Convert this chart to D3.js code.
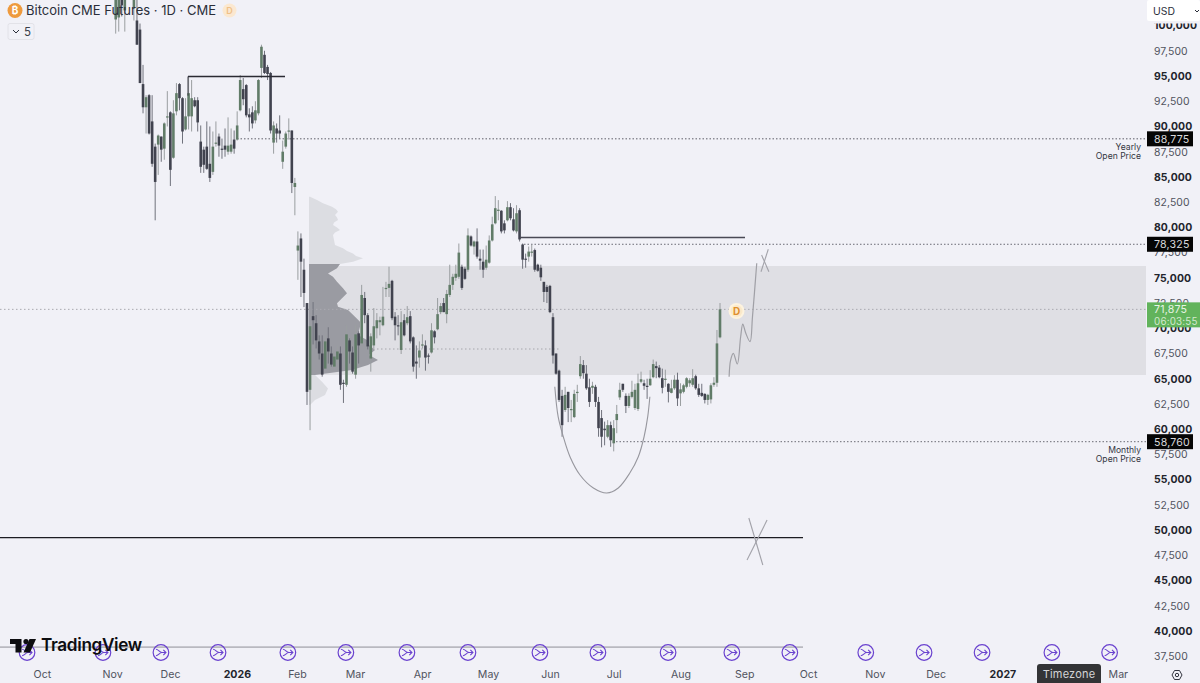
<!DOCTYPE html>
<html><head><meta charset="utf-8">
<script src="https://cdn.jsdelivr.net/npm/d3@7"></script>
<style>
html,body{margin:0;padding:0;background:#f1f1f7;overflow:hidden}
svg{display:block;font-family:Inter,"Open Sans",sans-serif}
</style></head><body><svg id="c" width="1200" height="683"></svg>
<script>
const opens=[100600,100800,103000,101500,103500,104000,101700,100500,99600,94200,
91900,93100,90500,88000,88200,89000,87800,90900,91400,86900,
91500,94200,92800,89700,91000,91000,92600,92600,88500,87700,
88000,86300,85500,88300,89000,87800,88100,87500,87500,88700,
88700,91600,93700,94100,91200,91400,90600,91300,95800,97100,
95900,95300,88400,89800,89600,86500,88000,89500,89600,84000,
77700,78900,75800,72500,63900,71200,70500,68700,67500,66000,
69000,67500,66200,66900,67500,64600,64400,68800,67600,65400,
69500,68500,73000,71300,67000,68300,70000,70600,70300,73900,
74000,74700,71150,70300,67850,70800,70500,71200,69100,66700,
67100,68300,68300,67300,67600,69700,69900,71600,72500,71400,
73300,74300,75000,75100,76100,75900,75800,79100,78100,78600,
76900,76600,76000,76500,78700,80400,81700,81650,80400,80700,
82000,80800,79600,81700,78300,76900,77100,77500,77750,76300,
76000,74600,74100,74200,71100,67500,65800,63300,61900,63700,
61900,61200,63600,65250,66350,65500,64150,64100,64200,62700,
61100,60050,59250,60400,58600,60900,63150,64500,63300,62300,
63200,62100,62000,64700,64550,64300,64350,65150,66250,66100,
65050,64900,64500,63600,64050,64900,63550,63700,64200,64550,
64400,65250,64050,63600,63500,62900,62950,64400,64600,69100];
const closes=[102800,102800,102000,102600,104200,103600,103200,98100,94300,91900,
92900,89300,86300,84500,89100,87700,90300,91000,85700,91300,
93300,92800,89500,91000,93300,92800,92000,90400,86000,86200,
85800,84900,88000,88400,88100,87700,87700,88100,88200,87800,
90100,94600,92700,91100,90900,90300,91600,94600,97900,95300,
95200,89600,90100,89300,89300,87500,89300,89600,84400,84400,
78200,76600,73500,63700,70200,70800,68800,67500,65400,68700,
67700,66400,67200,67700,64400,64500,69400,67700,65700,69400,
68300,73300,71300,68200,69200,70200,70800,70800,71150,74000,
74400,71000,70300,70200,70600,69300,71100,68700,66200,66500,
67800,68400,67100,67200,69800,69100,71400,72200,71600,73400,
74300,75100,75400,77500,74000,74900,79200,78200,78600,77100,
76700,75800,76800,78700,80300,81900,81750,79600,79700,82000,
80900,79700,81400,78800,76800,76800,77600,77600,75800,75700,
75050,73600,73600,71600,67300,65500,62900,60400,63400,62100,
62000,63500,63700,66450,65550,64050,62700,64300,62700,60100,
59250,59900,60400,58900,60100,61500,63900,63900,62300,63300,
63700,63900,64550,64950,64300,64250,65000,66450,66050,65150,
64100,65000,63700,64050,64900,63050,63950,64350,65050,64850,
65050,64050,63400,63300,62900,63400,64350,64600,68500,71875];
const highs=[103500,103500,103800,103400,105000,104800,104500,103000,100200,96100,
93100,93200,93100,88300,89200,89000,90400,93500,91500,92600,
94300,94300,92900,92800,94900,94600,92900,92900,90100,88000,
90500,90000,89500,90500,89300,88800,89800,90900,89800,89600,
91500,95100,94800,94200,91800,92000,92500,94700,98100,97500,
96100,95400,90500,90300,91100,88600,89500,90800,89600,84900,
79600,79400,76900,72500,70500,72600,71300,69300,69300,69300,
70100,68200,67400,68300,68200,64900,70300,69000,68200,70300,
69700,74300,73600,71500,69500,72000,71500,71150,74100,74600,
76100,74800,71600,71300,71700,71400,72200,71700,69200,68300,
68700,69400,68800,67500,70500,69800,73000,72500,73000,73800,
76300,75400,76300,78400,76300,76100,79900,79200,78700,79900,
77800,77800,78200,79200,81060,83100,82700,81700,80700,82600,
82400,81900,82200,81900,78400,77400,78100,78300,77900,76400,
76300,74600,74300,74300,71500,67500,65900,63900,64200,63700,
62900,63900,64400,67250,66850,66350,65000,64700,64400,63200,
61900,60750,60900,60750,60900,62400,64600,64500,63550,63550,
64800,64500,65500,65700,64900,65000,65850,66900,66700,66350,
66000,65900,64550,64900,65350,65600,64550,64500,65150,65050,
65950,65400,64500,64500,63550,63500,64550,65150,69830,72500];
const lows=[99200,99400,100900,99400,103000,103100,100500,98100,94300,91300,
89300,89200,86000,80700,85200,86500,86700,90000,84100,86800,
91100,91600,88300,89600,89700,89500,91900,89500,85400,85400,
85700,84500,85200,88000,87000,86800,87000,87200,87300,87300,
88600,91500,92100,90900,89500,89800,90300,91100,94800,95200,
94600,89300,87300,88400,88800,85800,87800,88700,83400,81200,
74800,73100,72100,62400,59900,68400,68000,66900,65200,65900,
66500,66200,66000,66500,63900,62600,64200,66500,65500,65000,
66500,68300,70500,67900,65700,68000,69000,69300,70200,73100,
73100,70800,68800,69300,67450,69200,70300,68500,65700,65000,
66100,68000,65800,66500,67500,68500,69800,71400,71600,70500,
73100,73800,74700,74900,73800,74800,75600,78100,77300,76900,
75800,75000,75800,76400,78600,80300,80700,79400,79400,80600,
80700,79600,79400,78600,75900,76000,76600,77100,75600,75600,
74700,72600,72500,71500,66500,65400,62700,59250,61700,60700,
60700,61100,62700,65000,65000,63900,62200,63500,62200,59250,
58200,58400,59100,58250,57800,59600,62900,63700,61600,62100,
63050,61900,61800,64550,63900,63000,64300,65050,65050,65050,
63550,64200,62650,63550,63900,62300,62300,63550,64050,64200,
64200,63900,63200,63200,62550,62400,62550,64200,64200,69000];

// volume profile (relative volume per price level)
const vpUpperPrices=[83040,82700,82380,82050,81800,81550,81220,80980,80730,80480,80230,79990,79740,79490,79240,78750,78250,77920,77670,77420,77170,76930,76600,76370];
const vpUpperVols=[1,8,14,23,27,29,26,28,29,25,24,28,31,26,24,25,26,34,38,44,47,54,44,31];
const vpValuePrices=[76370,75940,75440,75110,74620,73960,73460,72970,72470,72140,71810,71150,70650,70160,69330,68840,68340,67850,67350,66860,66360,65860,65370];
const vpValueVols=[31,28,19,24,28,34,38,33,28,29,39,46,51,51,49,58,60,66,60,69,59,43,6];
const vpLowerPrices=[65370,64700,64040,63380,62890,62400];
const vpLowerVols=[6,13,19,16,6,1];

const priceTicks=d3.range(37500,100001,2500);
const monthLabels=["Oct","Nov","Dec","2026","Feb","Mar","Apr","May","Jun","Jul","Aug","Sep","Oct","Nov","Dec","2027","Mar"];
const monthIdx=[-24.3,-1.2,17.9,39.9,59.7,78.8,100.9,122.6,143,164,186,207,228,250,270,292,330];
const eventIdx=[-29.2,-4.2,14.9,33.7,56.7,75.8,95.9,116,139.7,158.8,181.9,202.9,222,247,266.2,285.3,308.3,327.3];

const zoneTop=76170, zoneBottom=65370;
const yearlyOpen=88775, monthlyOpen=58760, level78=78325, lastPrice=71875, level68=67945;
const resistA=94950, resistB=79000, supportLine=49260, baseLine=38400;
const arcIdx=[144.6,145.7,147.4,149.6,152.9,157.3,161.7,165.5,169.3,172.1,174,175.2,175.9];
const arcPrice=[64210,61240,59250,57270,55460,54170,53670,54170,55650,57270,59250,61240,63210];
const projIdx=[202,202.5,203.4,204.7,205.8,206.5,207.5,208.9,209.7,211.1];
const projPrice=[65200,66850,67520,66460,69160,70420,69500,68670,71150,76440];

const W=1200,H=683,axisX=1146;
const svg=d3.select("#c");
const x=d3.scaleLinear().domain([0,199]).range([115.7,720]);
const y=d3.scaleLinear().domain([95000,40000]).range([76,631]);
const vx=d3.scaleLinear().domain([0,80]).range([309,389]);
const BG="#f1f1f7";
svg.append("rect").attr("width",W).attr("height",H).attr("fill",BG);
svg.append("defs").append("clipPath").attr("id","pane").append("rect").attr("width",axisX).attr("height",H);
const pane=svg.append("g").attr("clip-path","url(#pane)");

// zone
pane.append("rect").attr("x",vx(0)).attr("width",axisX-vx(0)).attr("y",y(zoneTop)).attr("height",y(zoneBottom)-y(zoneTop)).attr("fill","#dfdfe4");

// volume profile
const vpArea=d3.area().y(d=>y(d[0])).x0(vx(0)).x1(d=>vx(d[1])).curve(d3.curveLinear);
[[vpUpperPrices,vpUpperVols,"#dcdde2"],[vpValuePrices,vpValueVols,"#9a9ba2"],[vpLowerPrices,vpLowerVols,"#dcdde2"]].forEach(([p,v,c])=>{
  pane.append("path").attr("d",vpArea(p.map((q,i)=>[q,v[i]]))).attr("fill",c);
});

// level lines
function hline(p,x1,x2,color,w,dash){
  const l=pane.append("line").attr("x1",x1).attr("x2",x2).attr("y1",y(p)).attr("y2",y(p)).attr("stroke",color).attr("stroke-width",w);
  if(dash)l.attr("stroke-dasharray",dash);
}
hline(lastPrice,0,axisX,"#a9a9b0",1,"1.5 2.5");
hline(level68,373,561,"#a6a6ac",1,"1.5 2.5");
hline(yearlyOpen,237,axisX,"#5e5e68",1,"1.5 2");
hline(level78,524,axisX,"#6a6a74",1,"1.5 2");
hline(monthlyOpen,616,axisX,"#6a6a74",1,"1.5 2");

// candles
const UP="#617c68",DN="#41434f",UPW="#9a9ea0",DNW="#70727c";
const g=pane.append("g");
opens.forEach((o,i)=>{
  const c=closes[i],up=c>=o;
  g.append("line").attr("x1",x(i)).attr("x2",x(i)).attr("y1",y(highs[i])).attr("y2",y(lows[i])).attr("stroke",up?UPW:DNW).attr("stroke-width",1);
  g.append("rect").attr("x",x(i)-1.3).attr("width",2.6).attr("y",y(Math.max(o,c))).attr("height",Math.max(1.2,Math.abs(y(o)-y(c)))).attr("fill",up?UP:DN);
});

// drawn lines
hline(resistA,188,285,"#2b2b33",1.4);
pane.append("line").attr("x1",188).attr("x2",188).attr("y1",y(resistA)).attr("y2",y(93050)).attr("stroke","#3a3a44").attr("stroke-width",1);
hline(resistB,520,745,"#4a4a55",1.6);
hline(supportLine,0,803,"#1c1c22",1.2);
hline(baseLine,0,803,"#b9b9c0",1.6);

const curve=d3.line().x(d=>x(d[0])).y(d=>y(d[1]));
pane.append("path").attr("d",curve.curve(d3.curveCatmullRom)(arcIdx.map((q,i)=>[q,arcPrice[i]]))).attr("fill","none").attr("stroke","#97979e").attr("stroke-width",1.1);
pane.append("path").attr("d",curve.curve(d3.curveCatmullRom)(projIdx.map((q,i)=>[q,projPrice[i]]))).attr("fill","none").attr("stroke","#a0a0a6").attr("stroke-width",1.2);
const crossA=[[[212.5,75600],[214.9,77830]],[[212.7,77260],[215.1,75600]]];
const crossB=[[[207.9,47030],[214.5,50997]],[[208.5,51200],[213.1,46540]]];
crossA.concat(crossB).forEach(s=>{
  pane.append("path").attr("d",curve.curve(d3.curveLinear)(s)).attr("fill","none").attr("stroke","#a2a2a9").attr("stroke-width",1.1);
});

// price axis
const ya=d3.axisRight(y).tickValues(priceTicks).tickFormat(d3.format(",")).tickSize(0).tickPadding(0);
const ag=svg.append("g").attr("transform","translate(1154,0)").call(ya);
ag.select(".domain").remove();
ag.selectAll("text").attr("x",0).attr("font-family","Inter").attr("font-size",10.4)
  .attr("font-weight",d=>d%5000===0?700:400).attr("fill",d=>d%5000===0?"#22242c":"#50535e").attr("letter-spacing",0.1);

// time axis
const xa=d3.axisBottom(x).tickValues(monthIdx).tickFormat((d,i)=>monthLabels[i]).tickSize(0).tickPadding(0);
const tg=svg.append("g").attr("transform","translate(0,670.5)").call(xa);
tg.select(".domain").remove();
tg.selectAll("text").attr("font-family","Inter").attr("font-size",10.6)
  .attr("font-weight",(d,i)=>/^\d/.test(monthLabels[i])?700:400).attr("fill",(d,i)=>/^\d/.test(monthLabels[i])?"#22242c":"#50535e");

// event icons
const ev=svg.append("g");
eventIdx.forEach(i=>{
  const e=ev.append("g").attr("transform",`translate(${x(i)},652.5)`);
  e.append("circle").attr("r",7.8).attr("fill","none").attr("stroke","#6a42cf").attr("stroke-width",1.2);
  e.append("path").attr("d","M-5,-3.2C-2.5,-3.2 -1.5,0 1,0M-5,3.2C-2.5,3.2 -1.5,0 1,0M1,0H5M2.4,-2.6L5,0L2.4,2.6").attr("fill","none").attr("stroke","#6a42cf").attr("stroke-width",1.1);
});

// logo
const lg=svg.append("g").attr("fill","#0d0d10");
lg.append("path").attr("d","M10,639H21.5V652.5H15.5V644H10Z");
lg.append("circle").attr("cx",26).attr("cy",641.5).attr("r",2.6);
lg.append("path").attr("d","M29.5,639H36L30,652.5H23.5Z");
svg.append("text").attr("x",41).attr("y",651).attr("font-family","Inter").attr("font-weight",600).attr("font-size",17.2).attr("letter-spacing",-0.35).attr("fill","#0d0d10").text("TradingView");

// header
svg.append("circle").attr("cx",15).attr("cy",10.5).attr("r",7.5).attr("fill","#ee9a3e");
svg.append("text").attr("x",15).attr("y",14).attr("text-anchor","middle").attr("font-size",10).attr("font-weight",700).attr("fill","#fff").text("₿");
svg.append("text").attr("x",26).attr("y",15).attr("font-family","Inter").attr("font-size",13).attr("fill","#2a2e39").text("Bitcoin CME Futures · 1D · CME");
svg.append("circle").attr("cx",229.5).attr("cy",10.5).attr("r",7).attr("fill","#fbe8d0");
svg.append("text").attr("x",229.5).attr("y",14).attr("text-anchor","middle").attr("font-size",9).attr("font-weight",600).attr("fill","#efc088").text("D");
svg.append("rect").attr("x",8).attr("y",23.5).attr("width",26).attr("height",16).attr("rx",2).attr("fill","#f1f1f7").attr("stroke","#e2e2e8");
svg.append("path").attr("d","M13,30L16,33L19,30").attr("fill","none").attr("stroke","#2a2e39").attr("stroke-width",1);
svg.append("text").attr("x",24).attr("y",36).attr("font-family","Inter").attr("font-size",11.5).attr("fill","#3a3e49").text("5");

// D marker
svg.append("circle").attr("cx",736.5).attr("cy",311).attr("r",8).attr("fill","#fdf3df");
svg.append("circle").attr("cx",736.5).attr("cy",311).attr("r",6).attr("fill","#fbe9c9");
svg.append("text").attr("x",736.5).attr("y",315).attr("text-anchor","middle").attr("font-family","Inter").attr("font-size",10).attr("font-weight",700).attr("fill","#e08f2e").text("D");

// right tags
function tag(p,str){
  svg.append("rect").attr("x",1147).attr("width",46).attr("y",y(p)-7.5).attr("height",15).attr("fill","#050505");
  svg.append("text").attr("x",1154).attr("y",y(p)+4).attr("font-family","Inter").attr("font-size",10.6).attr("letter-spacing",0.2).attr("fill","#d9d9dc").text(str);
}
tag(yearlyOpen,"88,775");tag(level78,"78,325");tag(monthlyOpen,"58,760");
const fmt=d3.format(",");
svg.append("rect").attr("x",1147).attr("y",y(lastPrice)-7).attr("width",53).attr("height",25).attr("fill","#62b35c");
svg.append("text").attr("x",1154).attr("y",y(lastPrice)+4).attr("font-family","Inter").attr("font-size",10.6).attr("letter-spacing",0.2).attr("fill","#e8f3e4").text(fmt(lastPrice));
svg.append("text").attr("x",1154).attr("y",y(lastPrice)+16).attr("font-family","Inter").attr("font-size",9.8).attr("letter-spacing",0.2).attr("fill","#d3e9cd").text("06:03:55");

// notes
function note(yy,a,b){
  svg.append("text").attr("x",1141).attr("y",yy).attr("text-anchor","end").attr("font-family","Inter").attr("font-size",8.6).attr("fill","#33353f").text(a);
  svg.append("text").attr("x",1141).attr("y",yy+8.5).attr("text-anchor","end").attr("font-family","Inter").attr("font-size",8.6).attr("fill","#33353f").text(b);
}
note(150,"Yearly","Open Price");
note(453,"Monthly","Open Price");

// USD selector
svg.append("rect").attr("x",1147).attr("y",0).attr("width",53).attr("height",21).attr("rx",2).attr("fill","#fff");
svg.append("rect").attr("x",1147).attr("y",21).attr("width",53).attr("height",2.5).attr("fill",BG);
svg.append("text").attr("x",1153).attr("y",15).attr("font-family","Inter").attr("font-size",10.4).attr("fill","#2a2e39").text("USD");
svg.append("path").attr("d","M1195,10L1197,12L1199,10").attr("fill","none").attr("stroke","#2a2e39").attr("stroke-width",1);

// timezone tooltip
svg.append("path").attr("d","M1037,683V667a3,3 0 0 1 3,-3H1098a3,3 0 0 1 3,3V683Z").attr("fill","#333436");
svg.append("text").attr("x",1069).attr("y",678).attr("text-anchor","middle").attr("font-family","Inter").attr("font-size",11).attr("letter-spacing",0.2).attr("fill","#d4d4d6").text("Timezone");

// settings
svg.append("path").attr("d","M1172,675L1174.5,670.5H1179.5L1182,675L1179.5,679.5H1174.5Z").attr("fill","none").attr("stroke","#33353f").attr("stroke-width",1);
svg.append("circle").attr("cx",1177).attr("cy",675).attr("r",1.7).attr("fill","none").attr("stroke","#33353f").attr("stroke-width",1);
</script></body></html>
